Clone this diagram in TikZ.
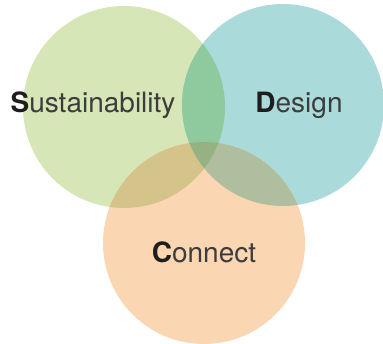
\documentclass[tikz,border=0pt]{standalone}
\usepackage{fontspec}
\setmainfont{TeX Gyre Heros}
\definecolor{cG}{RGB}{214,230,183}
\definecolor{cT}{RGB}{170,218,217}
\definecolor{cO}{RGB}{251,214,178}
\definecolor{cGT}{RGB}{143,201,158}
\definecolor{cGO}{RGB}{212,196,138}
\definecolor{cTO}{RGB}{174,190,158}
\definecolor{cGTO}{RGB}{150,178,130}
\definecolor{txt}{RGB}{60,60,60}
\definecolor{txtb}{RGB}{30,30,30}
\tikzset{lbl/.style={font=\fontsize{28}{32}\selectfont, text=txt, inner sep=0pt, anchor=base}}
\newcommand{\fl}[1]{{\bfseries\color{txtb}#1}}
\begin{document}
\begin{tikzpicture}[x=1pt,y=-1pt]
\useasboundingbox (0,0) rectangle (383,344);
\def\G{(124,107) circle (101)}
\def\T{(283,105) circle (101)}
\def\O{(204,243) circle (101)}
\fill[cG] \G;
\fill[cT] \T;
\fill[cO] \O;
\begin{scope}\clip \G; \fill[cGT] \T; \end{scope}
\begin{scope}\clip \G; \fill[cGO] \O; \end{scope}
\begin{scope}\clip \T; \fill[cTO] \O; \end{scope}
\begin{scope}\clip \G; \clip \T; \fill[cGTO] \O; \end{scope}
\node[lbl] (s) at (93,113) {\fl{S}ustainability};
\node[lbl] (d) at (299,113) {\fl{D}esign};
\node[lbl] (c) at (204,263) {\fl{C}onnect};
\end{tikzpicture}
\end{document}
